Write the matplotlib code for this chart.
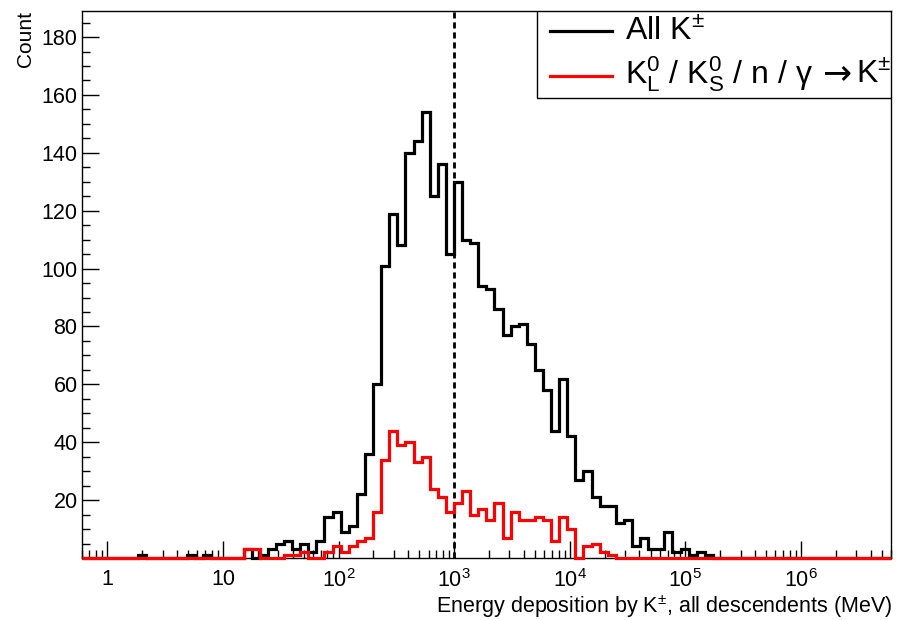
import numpy as np
import matplotlib
matplotlib.use("Agg")
import matplotlib.pyplot as plt
from matplotlib.patches import Rectangle
from matplotlib.transforms import IdentityTransform
from matplotlib.ticker import FixedLocator, LogLocator, NullFormatter, MultipleLocator

plt.rcParams['font.family'] = ['Liberation Sans', 'DejaVu Sans']
plt.rcParams['mathtext.fontset'] = 'custom'
plt.rcParams['mathtext.rm'] = 'Liberation Sans'
plt.rcParams['mathtext.it'] = 'Liberation Sans:italic'
plt.rcParams['mathtext.bf'] = 'Liberation Sans:bold'
plt.rcParams['mathtext.sf'] = 'Liberation Sans'
plt.rcParams['mathtext.fallback'] = 'stixsans'

# ---------------- data ----------------
x_min = 0.6          # MeV, histogram lower edge
x_max = 6e6          # MeV, histogram upper edge
n_bins = 100         # log-spaced bins

all_k = [
    0, 0, 0, 0, 0, 0, 0, 1, 0, 0,
    0, 0, 0, 1, 0, 1, 0, 0, 0, 0,
    3, 0, 1, 3, 5, 6, 3, 5, 2, 6,
    14, 16, 9, 11, 22, 36, 60, 101, 119, 108,
    140, 144, 154, 125, 136, 105, 130, 110, 109, 94,
    93, 86, 77, 80, 81, 74, 65, 58, 44, 62,
    42, 27, 30, 21, 18, 18, 12, 13, 4, 7,
    3, 3, 9, 2, 3, 1, 2, 1, 0, 0,
    0, 0, 0, 0, 0, 0, 0, 0, 0, 0,
    0, 0, 0, 0, 0, 0, 0, 0, 0, 0,
]

neutral_to_k = [
    0, 0, 0, 0, 0, 0, 0, 0, 0, 0,
    0, 0, 0, 0, 0, 0, 0, 0, 0, 0,
    3, 3, 0, 0, 0, 1, 1, 2, 0, 0,
    2, 4, 2, 4, 6, 7, 16, 34, 44, 39,
    40, 33, 35, 24, 21, 16, 19, 23, 15, 17,
    13, 19, 7, 16, 13, 13, 14, 13, 6, 14,
    10, 0, 4, 5, 2, 1, 0, 0, 0, 0,
    0, 0, 0, 0, 0, 0, 0, 0, 0, 0,
    0, 0, 0, 0, 0, 0, 0, 0, 0, 0,
    0, 0, 0, 0, 0, 0, 0, 0, 0, 0,
]

cut_value = 1000     # MeV, dashed vertical line
y_max = 189

major_ticks = [1, 10, 100, 1e3, 1e4, 1e5, 1e6]
major_labels = ['1', '10', '$10^{2}$', '$10^{3}$', '$10^{4}$', '$10^{5}$', '$10^{6}$']
y_ticks = [20, 40, 60, 80, 100, 120, 140, 160, 180]

legend_label_1 = 'All K$^{\\pm}$'
legend_label_2 = ['K$_{\\mathrm{L}}^{0}$ / K$_{\\mathrm{S}}^{0}$ / n / γ', '→', 'K$^{\\pm}$']
x_title = 'Energy deposition by K$^{\\pm}$, all descendents (MeV)'
y_title = 'Count'

# ---------------- figure ----------------
W, H = 900, 620
fig = plt.figure(figsize=(W / 100, H / 100), dpi=100)
L, R, T, B = 81.7, 891.0, 11.0, 558.0
ax = fig.add_axes([L / W, 1 - B / H, (R - L) / W, (B - T) / H])

edges = np.logspace(np.log10(x_min), np.log10(x_max), n_bins + 1)
ax.stairs(all_k, edges, color='black', lw=2.3, clip_on=False, zorder=3)
ax.stairs(neutral_to_k, edges, color='red', lw=2.3, clip_on=False, zorder=4)
ax.axvline(cut_value, color='black', lw=2, ls=(0, (2.2, 1.4)), zorder=2)

ax.set_xscale('log')
ax.set_xlim(x_min, x_max)
ax.set_ylim(0, y_max)

ax.xaxis.set_major_locator(FixedLocator(major_ticks))
ax.set_xticklabels(major_labels)
ax.xaxis.set_minor_locator(LogLocator(base=10, subs=np.arange(2, 10), numticks=30))
ax.xaxis.set_minor_formatter(NullFormatter())
ax.yaxis.set_major_locator(FixedLocator(y_ticks))
ax.yaxis.set_minor_locator(MultipleLocator(5))

ax.tick_params(axis='both', which='both', direction='in', top=False, right=False, width=1)
ax.tick_params(axis='x', which='major', length=12, pad=8, labelsize=15.5)
ax.tick_params(axis='x', which='minor', length=6)
ax.tick_params(axis='y', which='major', length=12, pad=3, labelsize=15.5)
ax.tick_params(axis='y', which='minor', length=6)
for s in ax.spines.values():
    s.set_linewidth(1)

fig.text(R / W + 0.002, 1 - 613 / H, x_title, ha='right', va='baseline', fontsize=15.5)
fig.text(25 / W, 1 - 11 / H, y_title, rotation=90, ha='center', va='top', fontsize=15)

# ---------------- legend (ROOT style box) ----------------
def axx(px):
    return (px - L) / (R - L)

def axy(py):
    return (B - py) / (B - T)

ax.add_patch(Rectangle((axx(537), axy(98)), 1 - axx(537), 1 - axy(98),
                       transform=ax.transAxes, facecolor='white',
                       edgecolor='black', lw=1, zorder=5))
ax.plot([axx(550), axx(612)], [axy(31), axy(31)], transform=ax.transAxes,
        color='black', lw=2.3, zorder=6)
ax.plot([axx(550), axx(612)], [axy(76), axy(76)], transform=ax.transAxes,
        color='red', lw=2.3, zorder=6)
ax.text(axx(625), axy(40), legend_label_1, transform=ax.transAxes,
        ha='left', va='baseline', fontsize=23, zorder=7)

# second entry drawn in pieces so the arrow can be a long one
renderer = fig.canvas.get_renderer()
base_y = H - 83  # display pixels (origin bottom-left)
x_cur = 625
gaps = [0, 9, 5]
families = [['Liberation Sans', 'DejaVu Sans'], ['DejaVu Sans'], ['Liberation Sans', 'DejaVu Sans']]
sizes = [23, 25, 23]
for piece, gap, fam, fs in zip(legend_label_2, gaps, families, sizes):
    t = ax.text(x_cur + gap, base_y, piece, transform=IdentityTransform(),
                ha='left', va='baseline', fontsize=fs, family=fam, zorder=7)
    bb = t.get_window_extent(renderer)
    x_cur = bb.x1

fig.savefig('out.png', dpi=100)
